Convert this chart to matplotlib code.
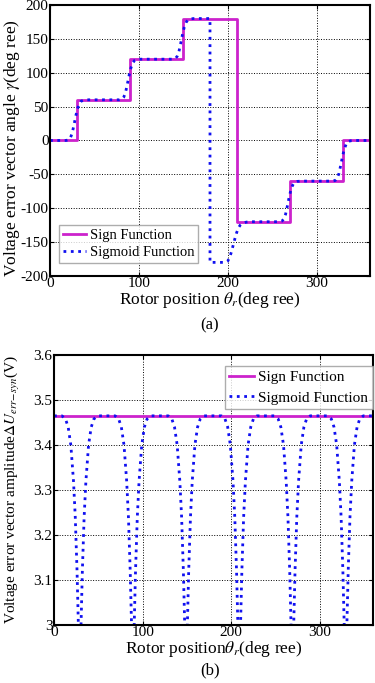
import matplotlib
matplotlib.use('Agg')
import matplotlib.pyplot as plt

plt.rcParams['font.family'] = ['Liberation Serif', 'DejaVu Serif']
plt.rcParams['mathtext.fontset'] = 'stix'
plt.rcParams['axes.unicode_minus'] = False

# sign function: rotor position (deg) vs voltage error vector angle (deg)
theta_sign = [0, 30, 30, 90, 90, 150, 150, 210, 210, 270, 270, 330, 330, 360]
gamma_sign = [0, 0, 60, 60, 120, 120, 180, 180, -120, -120, -60, -60, 0, 0]

# sigmoid function
theta_sig = [0, 10, 18, 21, 23, 25, 27, 29, 31, 33, 35, 38, 42, 50,
             70, 78, 81, 83, 85, 87, 89, 91, 93, 95, 98, 102, 110,
             130, 138, 141, 143, 145, 147, 149, 151, 153, 155, 158, 162, 170, 180,
             180, 190, 197, 200, 202, 204, 206, 208, 210, 212, 214, 217, 221, 226, 240,
             258, 261, 263, 265, 267, 269, 271, 273, 275, 278, 282, 290,
             310, 318, 321, 323, 325, 327, 329, 331, 333, 335, 338, 342, 350, 360]
gamma_sig = [0, 0, 0, 1, 4, 11, 23, 36, 47, 54, 58, 59.5, 60, 60,
             60, 60, 61, 64, 71, 83, 96, 107, 114, 118, 119.5, 120, 120,
             120, 120, 121, 124, 131, 143, 156, 167, 174, 178, 179.5, 180, 180, 180,
             -180, -180, -180, -178, -173, -165, -155, -145, -136, -129, -125, -122, -120.5, -120, -120,
             -120, -119, -116, -109, -97, -84, -73, -66, -62, -60.5, -60, -60,
             -60, -60, -59, -56, -49, -37, -24, -13, -6, -2, -0.5, 0, 0, 0]

# amplitude of the voltage error vector (V)
theta_amp_sign = [0, 360]
amp_sign = [3.465, 3.465]

theta_amp_sig = [0,
                 9, 13, 16, 19, 22, 24, 26, 28, 29, 30, 32, 34, 36, 39, 42, 45, 49,
                 69, 73, 76, 79, 82, 84, 86, 88, 89, 90, 92, 94, 96, 99, 102, 105, 109,
                 129, 133, 136, 139, 142, 144, 146, 148, 149, 150, 152, 154, 156, 159, 162, 165, 169,
                 189, 193, 196, 199, 202, 204, 206, 208, 209, 210, 212, 214, 216, 219, 222, 225, 229,
                 249, 253, 256, 259, 262, 264, 266, 268, 269, 270, 272, 274, 276, 279, 282, 285, 289,
                 309, 313, 316, 319, 322, 324, 326, 328, 329, 330, 332, 334, 336, 339, 342, 345, 349,
                 360]
amp_sig = [3.465,
           3.465, 3.458, 3.44, 3.40, 3.32, 3.24, 3.12, 2.96, 2.90, 2.96, 3.12, 3.24, 3.32, 3.40, 3.44, 3.458, 3.465,
           3.465, 3.458, 3.44, 3.40, 3.32, 3.24, 3.12, 2.96, 2.90, 2.96, 3.12, 3.24, 3.32, 3.40, 3.44, 3.458, 3.465,
           3.465, 3.458, 3.44, 3.40, 3.32, 3.24, 3.12, 2.96, 2.90, 2.96, 3.12, 3.24, 3.32, 3.40, 3.44, 3.458, 3.465,
           3.465, 3.458, 3.44, 3.40, 3.32, 3.24, 3.12, 2.96, 2.90, 2.96, 3.12, 3.24, 3.32, 3.40, 3.44, 3.458, 3.465,
           3.465, 3.458, 3.44, 3.40, 3.32, 3.24, 3.12, 2.96, 2.90, 2.96, 3.12, 3.24, 3.32, 3.40, 3.44, 3.458, 3.465,
           3.465, 3.458, 3.44, 3.40, 3.32, 3.24, 3.12, 2.96, 2.90, 2.96, 3.12, 3.24, 3.32, 3.40, 3.44, 3.458, 3.465,
           3.465]

MAGENTA = '#CC22CC'
BLUE = '#1010F0'

fig = plt.figure(figsize=(3.75, 6.83), dpi=100)
ax1 = fig.add_axes([0.1333, 0.596, 0.8534, 0.3967])
ax2 = fig.add_axes([0.144, 0.085, 0.8507, 0.395])


def style(ax):
    ax.grid(True, color='black', linestyle=':', linewidth=0.7)
    ax.tick_params(direction='in', top=True, right=True, labelsize=11, length=3, pad=1)
    for s in ax.spines.values():
        s.set_linewidth(1.5)


ax1.plot(theta_sign, gamma_sign, color=MAGENTA, linewidth=2, label='Sign Function')
ax1.plot(theta_sig, gamma_sig, color=BLUE, linewidth=2, linestyle=':', label='Sigmoid Function')
ax1.set_xlim(0, 360)
ax1.set_ylim(-200, 200)
ax1.set_xticks([0, 100, 200, 300])
ax1.set_yticks(range(-200, 201, 50))
style(ax1)
ax1.set_xlabel(r'Rotor position $\theta_r$(deg ree)', fontsize=12.5, labelpad=0)
ax1.set_ylabel(r'Voltage error vector angle $\gamma$(deg ree)', fontsize=12.5, labelpad=0)
ax1.yaxis.set_label_coords(-0.088, 0.47)
ax1.legend(loc='lower left', bbox_to_anchor=(0.028, 0.048), fontsize=10.5, frameon=True,
           fancybox=False, edgecolor='#999999', handlelength=1.6, handletextpad=0.3,
           borderpad=0.25, labelspacing=0.3, borderaxespad=0)

ax2.plot(theta_amp_sign, amp_sign, color=MAGENTA, linewidth=2, label='Sign Function')
ax2.plot(theta_amp_sig, amp_sig, color=BLUE, linewidth=2, linestyle=':', label='Sigmoid Function')
ax2.set_xlim(0, 360)
ax2.set_ylim(3.0, 3.6)
ax2.set_xticks([0, 100, 200, 300])
ax2.set_yticks([3.0, 3.1, 3.2, 3.3, 3.4, 3.5, 3.6])
ax2.set_yticklabels(['3', '3.1', '3.2', '3.3', '3.4', '3.5', '3.6'])
style(ax2)
ax2.set_xlabel(r'Rotor position$\theta_r$(deg ree)', fontsize=12.5, labelpad=0)
ax2.set_ylabel(r'Voltage error vector amplitude$\Delta U_{err\!-\!syn}$(V)', fontsize=11, labelpad=0)
ax2.yaxis.set_label_coords(-0.10, 0.5)
ax2.legend(loc='upper right', bbox_to_anchor=(1.0, 0.96), fontsize=11, frameon=True, fancybox=False,
           edgecolor='#999999', handlelength=1.6, handletextpad=0.3, borderpad=0.3,
           labelspacing=0.45, borderaxespad=0)

fig.text(0.56, 0.523, '(a)', ha='center', va='center', fontsize=12)
fig.text(0.56, 0.018, '(b)', ha='center', va='center', fontsize=12)

fig.savefig('out.png', dpi=100)
